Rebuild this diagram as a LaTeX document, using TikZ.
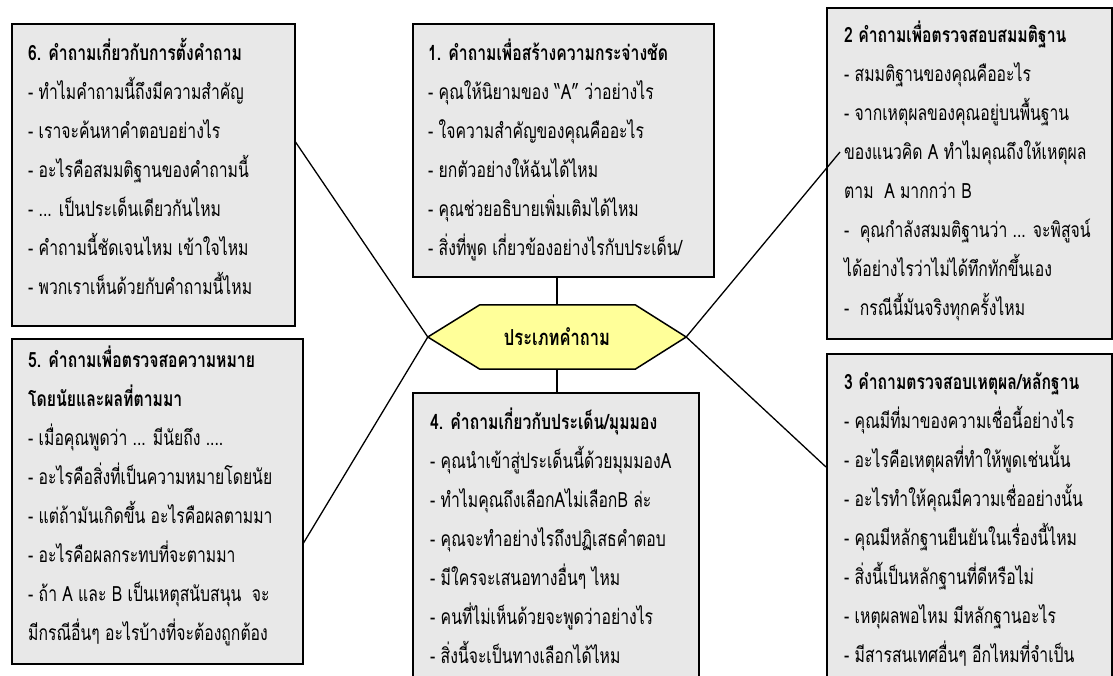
\documentclass[tikz,border=0pt]{standalone}
\usepackage{fontspec}
\usetikzlibrary{backgrounds}
\newfontfamily\thaifont[Script=Thai,FakeStretch=0.75]{Loma}
\definecolor{panelgray}{RGB}{232,232,232}
\definecolor{hubyellow}{RGB}{255,255,153}
\begin{document}
\begin{tikzpicture}[x=1pt,y=-1pt,
  panel/.style={draw=black,line width=1.5pt,fill=panelgray,anchor=north west,inner sep=0pt},
  list/.style={anchor=north west,inner sep=0pt,align=left,
    font=\thaifont\fontsize{21}{39}\selectfont},
  link/.style={draw=black,line width=1.3pt},
  hub/.style={inner sep=0pt,minimum width=258pt,minimum height=64pt,
    font=\thaifont\bfseries\fontsize{22}{24}\selectfont}
]
\useasboundingbox (0,0) rectangle (1113,675);

% question panels
\node[panel,minimum width=283pt,minimum height=302pt] (b6) at (11,23) {};
\node[panel,minimum width=301pt,minimum height=253pt] (b1) at (412,23) {};
\node[panel,minimum width=285pt,minimum height=331pt] (b2) at (826,7) {};
\node[panel,minimum width=291pt,minimum height=325pt] (b5) at (11,338) {};
\node[panel,minimum width=286pt,minimum height=298pt] (b4) at (412,392) {};
\node[panel,minimum width=285pt,minimum height=337pt] (b3) at (826,353) {};

% panel texts
\node[list] (t6) at (28,35) {\rule{0pt}{25pt}\textbf{6. คำถามเกี่ยวกับการตั้งคำถาม}\\
- ทำไมคำถามนี้ถึงมีความสำคัญ\\
- เราจะค้นหาคำตอบอย่างไร\\
- อะไรคือสมมติฐานของคำถามนี้\\
- ... เป็นประเด็นเดียวกันไหม\\
- คำถามนี้ชัดเจนไหม เข้าใจไหม\\
- พวกเราเห็นด้วยกับคำถามนี้ไหม};

\node[list] (t1) at (428,35) {\rule{0pt}{25pt}\textbf{1. คำถามเพื่อสร้างความกระจ่างชัด}\\
- คุณให้นิยามของ “A” ว่าอย่างไร\\
- ใจความสำคัญของคุณคืออะไร\\
- ยกตัวอย่างให้ฉันได้ไหม\\
- คุณช่วยอธิบายเพิ่มเติมได้ไหม\\
- สิ่งที่พูด เกี่ยวข้องอย่างไรกับประเด็น/};

\node[list] (t2) at (844,17) {\rule{0pt}{25pt}\textbf{2 คำถามเพื่อตรวจสอบสมมติฐาน}\\
- สมมติฐานของคุณคืออะไร\\
- จากเหตุผลของคุณอยู่บนพื้นฐาน\\
ของแนวคิด A ทำไมคุณถึงให้เหตุผล\\
ตาม~~A มากกว่า B\\
-\enspace คุณกำลังสมมติฐานว่า ... จะพิสูจน์\\
ได้อย่างไรว่าไม่ได้ทึกทักขึ้นเอง\\
-\enspace กรณีนี้มันจริงทุกครั้งไหม};

\node[list] (t5) at (28,342) {\rule{0pt}{25pt}\textbf{5. คำถามเพื่อตรวจสอความหมาย}\\
\textbf{โดยนัยและผลที่ตามมา}\\
- เมื่อคุณพูดว่า ... มีนัยถึง ....\\
- อะไรคือสิ่งที่เป็นความหมายโดยนัย\\
- แต่ถ้ามันเกิดขึ้น อะไรคือผลตามมา\\
- อะไรคือผลกระทบที่จะตามมา\\
- ถ้า A และ B เป็นเหตุสนับสนุน~~จะ\\
มีกรณีอื่นๆ อะไรบ้างที่จะต้องถูกต้อง};

\node[list] (t4) at (430,404) {\rule{0pt}{25pt}\textbf{4. คำถามเกี่ยวกับประเด็น/มุมมอง}\\
- คุณนำเข้าสู่ประเด็นนี้ด้วยมุมมองA\\
- ทำไมคุณถึงเลือกAไม่เลือกB ล่ะ\\
- คุณจะทำอย่างไรถึงปฏิเสธคำตอบ\\
- มีใครจะเสนอทางอื่นๆ ไหม\\
- คนที่ไม่เห็นด้วยจะพูดว่าอย่างไร\\
- สิ่งนี้จะเป็นทางเลือกได้ไหม};

\node[list] (t3) at (844,364) {\rule{0pt}{25pt}\textbf{3 คำถามตรวจสอบเหตุผล/หลักฐาน}\\
- คุณมีที่มาของความเชื่อนี้อย่างไร\\
- อะไรคือเหตุผลที่ทำให้พูดเช่นนั้น\\
- อะไรทำให้คุณมีความเชื่ออย่างนั้น\\
- คุณมีหลักฐานยืนยันในเรื่องนี้ไหม\\
- สิ่งนี้เป็นหลักฐานที่ดีหรือไม่\\
- เหตุผลพอไหม มีหลักฐานอะไร\\
- มีสารสนเทศอื่นๆ อีกไหมที่จำเป็น};

% central hexagon
\node[hub] (hub) at (557,337) {ประเภทคำถาม};
\begin{scope}[on background layer]
  \filldraw[fill=hubyellow,draw=black,line width=1.5pt]
    (hub.west) -- ([xshift=52pt]hub.north west) -- ([xshift=-51pt]hub.north east)
    -- (hub.east) -- ([xshift=-51pt]hub.south east) -- ([xshift=52pt]hub.south west)
    -- cycle;
\end{scope}

% connector ends on the panels
\coordinate (e6) at ([yshift=-119pt]b6.north east);
\coordinate (e5) at ([yshift=-205pt]b5.north east);
\coordinate (e2) at ([xshift=14pt,yshift=-145pt]b2.north west);
\coordinate (e3) at ([yshift=-114pt]b3.north west);

% connectors
\draw[link] (hub.north |- b1.south) -- (hub.north);
\draw[link] (hub.south) -- (hub.south |- b4.north);
\draw[link] (hub.west) -- (e6);
\draw[link] (hub.west) -- (e5);
\draw[link] (hub.east) -- (e2);
\draw[link] (hub.east) -- (e3);
\end{tikzpicture}
\end{document}
